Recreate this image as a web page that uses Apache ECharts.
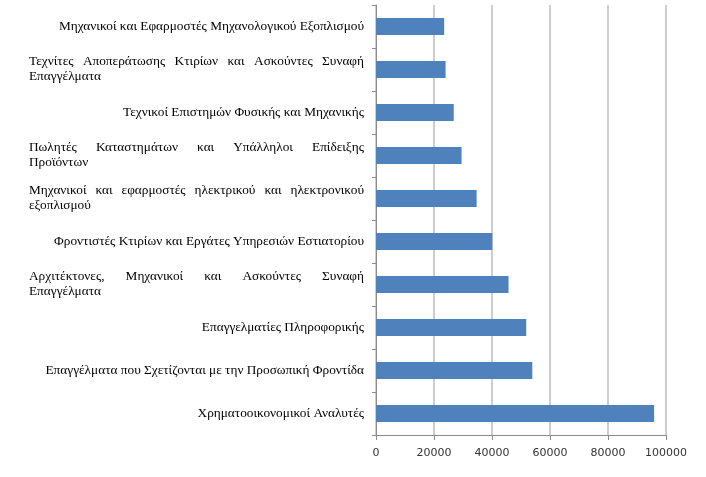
<!DOCTYPE html>
<html lang="el">
<head>
    <meta charset="UTF-8">
    <title>Επαγγέλματα</title>
    <script src="https://cdn.jsdelivr.net/npm/echarts@6/dist/echarts.min.js"></script>
    <style>
        html, body { margin: 0; padding: 0; background: #fff; }
    </style>
</head>
<body>
<div id="barChart" style="width: 706px;height: 477px;"></div>

<script>
    // κατηγορίες από κάτω προς τα πάνω, '\n' όπου σπάει η γραμμή στο πρωτότυπο
    var categories = [
        'Χρηματοοικονομικοί Αναλυτές',
        'Επαγγέλματα που Σχετίζονται με την Προσωπική Φροντίδα',
        'Επαγγελματίες Πληροφορικής',
        'Αρχιτέκτονες, Μηχανικοί και Ασκούντες Συναφή\nΕπαγγέλματα',
        'Φροντιστές Κτιρίων και Εργάτες Υπηρεσιών Εστιατορίου',
        'Μηχανικοί και εφαρμοστές ηλεκτρικού και ηλεκτρονικού\nεξοπλισμού',
        'Πωλητές Καταστημάτων και Υπάλληλοι Επίδειξης\nΠροϊόντων',
        'Τεχνικοί Επιστημών Φυσικής και Μηχανικής',
        'Τεχνίτες Αποπεράτωσης Κτιρίων και Ασκούντες Συναφή\nΕπαγγέλματα',
        'Μηχανικοί και Εφαρμοστές Μηχανολογικού Εξοπλισμού'
    ];
    var values = [95900, 53900, 51800, 45700, 40100, 34700, 29500, 26800, 24000, 23500];
    var xTicks = [0, 20000, 40000, 60000, 80000, 100000];

    var labelFont = '"Liberation Serif", "DejaVu Serif", serif';
    var labelSize = 13.3;
    var boxWidth = 335;

    // μέτρηση πλάτους λέξεων για στοίχιση (justify) της πρώτης γραμμής
    var ctx = document.createElement('canvas').getContext('2d');
    ctx.font = labelSize + 'px ' + labelFont;

    function justify(line) {
        var words = line.split(' ');
        var total = 0;
        words.forEach(function (w) { total += ctx.measureText(w).width; });
        var gap = Math.max(3, (boxWidth - total) / (words.length - 1));
        var out = '';
        words.forEach(function (w, i) {
            out += '{w|' + w + '}';
            if (i < words.length - 1) out += '{s| }';
        });
        return {text: out, gap: gap};
    }

    var myBarChart = echarts.init(document.getElementById('barChart'));
    var richStyles = {
        w: {fontFamily: labelFont, fontSize: labelSize, lineHeight: 15, color: '#000'},
        l: {width: boxWidth, align: 'left', fontFamily: labelFont, fontSize: labelSize, lineHeight: 15, color: '#000'},
        r: {align: 'right', fontFamily: labelFont, fontSize: labelSize, lineHeight: 15, color: '#000'}
    };

    var barOption = {
        animation: false,
        grid: {
            left: 376,
            right: 40,
            top: 5,
            bottom: 42
        },
        xAxis: {
            type: 'value',
            min: xTicks[0],
            max: xTicks[xTicks.length - 1],
            interval: xTicks[1] - xTicks[0],
            axisLine: {show: true, lineStyle: {color: '#8c8c8c'}},
            axisTick: {show: true, length: 5, lineStyle: {color: '#8c8c8c'}},
            axisLabel: {
                margin: 13,
                fontFamily: '"DejaVu Sans", sans-serif',
                fontSize: 11,
                color: '#333',
                formatter: function (v) { return String(v); }
            },
            splitLine: {show: true, lineStyle: {color: '#bdbdbd', width: 1.5}}
        },
        yAxis: {
            type: 'category',
            data: categories,
            axisLine: {show: true, lineStyle: {color: '#8c8c8c'}},
            axisTick: {show: true, length: 4, lineStyle: {color: '#8c8c8c'}},
            axisLabel: {
                interval: 0,
                margin: 12,
                align: 'right',
                formatter: function (val, idx) {
                    if (val.indexOf('\n') >= 0) {
                        var parts = val.split('\n');
                        var j = justify(parts[0]);
                        // πλάτος κενού για αυτή την ετικέτα
                        richStyles['s' + idx] = {width: j.gap, fontFamily: labelFont, fontSize: labelSize, lineHeight: 15};
                        return j.text.split('{s|').join('{s' + idx + '|') + '\n{l|' + parts[1] + '}';
                    }
                    return '{r|' + val + '}';
                },
                rich: richStyles
            }
        },
        series: [{
            type: 'bar',
            data: values,
            barWidth: 17,
            itemStyle: {color: '#4f81bd'}
        }]
    };
    // προϋπολογισμός των στυλ κενών πριν το setOption
    categories.forEach(function (c, i) {
        if (c.indexOf('\n') >= 0) barOption.yAxis.axisLabel.formatter(c, i);
    });
    myBarChart.setOption(barOption);
</script>
</body>
</html>
